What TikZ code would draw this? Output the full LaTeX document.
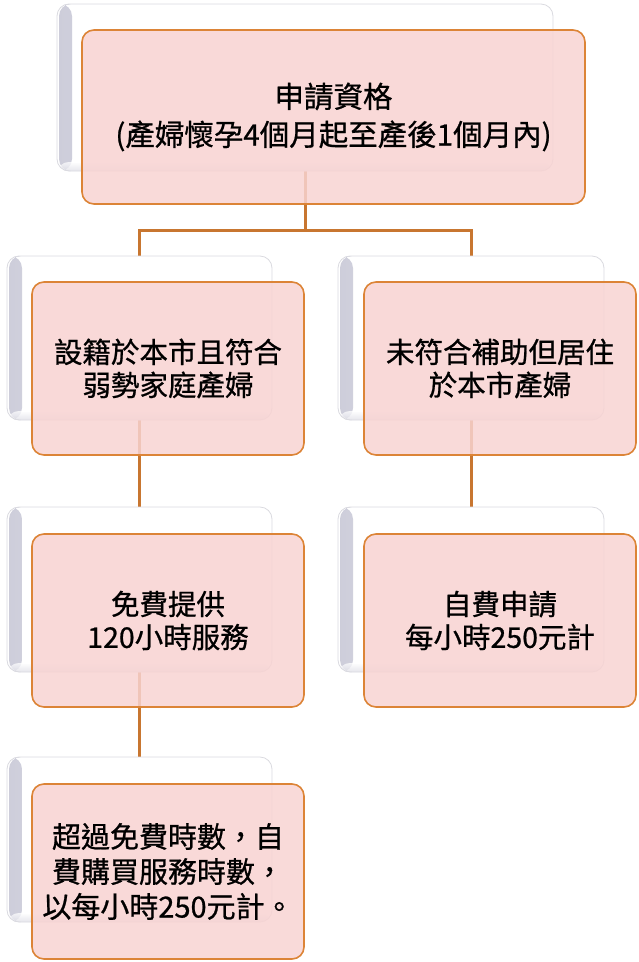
\documentclass[tikz,border=0pt]{standalone}
\usepackage{fontspec}
\setmainfont{Noto Sans CJK TC}[FakeBold=0.8]
\usetikzlibrary{backgrounds}
\definecolor{pinkfill}{RGB}{248,211,210}
\definecolor{boxedge}{RGB}{220,132,55}
\definecolor{linkcol}{RGB}{200,118,48}
\definecolor{cardedge}{RGB}{218,218,224}
\definecolor{cardshade}{RGB}{205,205,218}
\tikzset{
  x=1pt,y=-1pt,
  backcard/.style={rectangle, rounded corners=12pt, draw=cardedge, line width=0.8pt, fill=white, inner sep=0pt,
    path picture={
      \fill[left color=cardshade, right color=white]
        ([xshift=2pt]path picture bounding box.south west) rectangle ([xshift=15pt]path picture bounding box.north west);
      \fill[bottom color=cardshade, top color=white, fill opacity=0.5]
        (path picture bounding box.south west) rectangle ([yshift=9pt]path picture bounding box.south east);
    }},
  frontbox/.style={rectangle, rounded corners=12pt, draw=boxedge, line width=1.6pt, fill=pinkfill, fill opacity=0.85,
    text opacity=1, inner sep=0pt, align=center, font=\fontsize{28.5}{33}\selectfont},
  link/.style={draw=linkcol, line width=3pt},
}
\begin{document}
\begin{tikzpicture}
\useasboundingbox (0,0) rectangle (639,962);
% back cards
\node[backcard, minimum width=496pt, minimum height=167pt] (tb) at (305,87.5) {};
\node[backcard, minimum width=265pt, minimum height=164pt] (l1b) at (139.5,338) {};
\node[backcard, minimum width=266pt, minimum height=164pt] (r1b) at (471,338) {};
\node[backcard, minimum width=265pt, minimum height=165pt] (l2b) at (139.5,589.5) {};
\node[backcard, minimum width=266pt, minimum height=165pt] (r2b) at (471,589.5) {};
\node[backcard, minimum width=265pt, minimum height=165pt] (l3b) at (139.5,839.5) {};
% front boxes
\node[frontbox, minimum width=503pt, minimum height=174pt, font=\fontsize{29.5}{38}\selectfont] (t) at (333.5,117)
  {申請資格\\(產婦懷孕4個月起至產後1個月內)};
\node[frontbox, minimum width=272pt, minimum height=173pt] (l1) at (168,368.5)
  {設籍於本市且符合\\弱勢家庭產婦};
\node[frontbox, minimum width=272pt, minimum height=173pt] (r1) at (500,368.5)
  {未符合補助但居住\\於本市產婦};
\node[frontbox, minimum width=272pt, minimum height=173pt] (l2) at (168,620.5)
  {免費提供\\120小時服務};
\node[frontbox, minimum width=272pt, minimum height=173pt] (r2) at (500,620.5)
  {自費申請\\每小時250元計};
\node[frontbox, minimum width=272pt, minimum height=175pt, font=\fontsize{29}{35}\selectfont] (l3) at (168,871.5)
  {超過免費時數，自\\費購買服務時數，\\以每小時250元計。};
% connectors
\begin{scope}[on background layer]
\coordinate (split) at ([yshift=-59pt]tb.south);
\draw[link] (tb.south) -- (split);
\draw[link] (split) -| (l1b.north);
\draw[link] (split) -| (r1b.north);
\draw[link] (l1b.south) -- (l2b.north);
\draw[link] (r1b.south) -- (r2b.north);
\draw[link] (l2b.south) -- (l3b.north);
\end{scope}
\end{tikzpicture}
\end{document}
